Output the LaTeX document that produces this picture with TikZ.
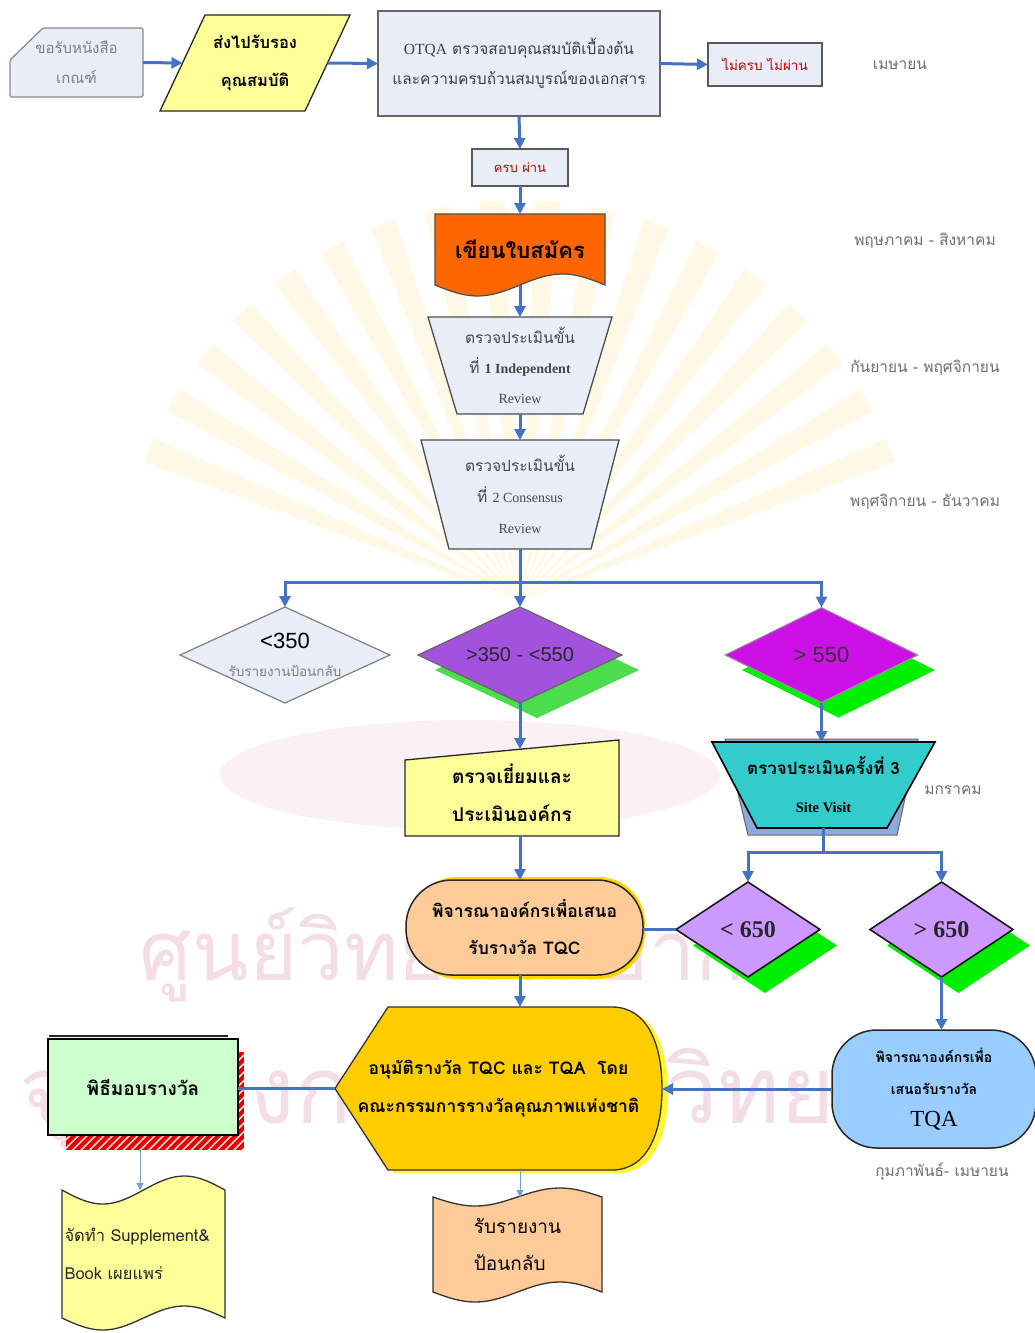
\documentclass[tikz,border=0pt]{standalone}
\usepackage{fontspec}
\setmainfont{Liberation Serif}
\newfontfamily\thai[Script=Thai]{Loma}
\newfontfamily\sans{Liberation Sans}
\usetikzlibrary{arrows.meta,calc,patterns.meta}

\definecolor{flow}{HTML}{4472C4}
\definecolor{paleblue}{HTML}{E9EDF7}
\definecolor{paleyellow}{HTML}{FFFF99}
\definecolor{orangefill}{HTML}{FF6600}
\definecolor{violetA}{HTML}{A352DE}
\definecolor{violetB}{HTML}{CC11E6}
\definecolor{lavender}{HTML}{CC99FF}
\definecolor{limeA}{HTML}{4CDD4C}
\definecolor{limeB}{HTML}{00EE00}
\definecolor{tealfill}{HTML}{33CCCC}
\definecolor{slatefill}{HTML}{8EA9DB}
\definecolor{peach}{HTML}{FFCC99}
\definecolor{goldfill}{HTML}{FFCC00}
\definecolor{mint}{HTML}{CCFFCC}
\definecolor{skyfill}{HTML}{99CCFF}
\definecolor{wmpink}{HTML}{F4DDE5}
\definecolor{wmgold}{HTML}{FFF8E4}
\definecolor{monthgray}{HTML}{6E6E6E}

\pgfdeclarelayer{watermark}
\pgfdeclarelayer{shapes}
\pgfsetlayers{watermark,shapes,main}

\newcommand\setfs[2]{\fontsize{#1}{#2}\selectfont}

\begin{document}
\begin{tikzpicture}[x=1pt,y=-1pt,
  holder/.style n args={2}{draw=none,inner sep=0pt,outer sep=0pt,
    minimum width=#1pt,minimum height=#2pt,align=center},
  outline/.style={draw=black!85,line width=1.3pt},
  flowline/.style={draw=flow,line width=3pt},
  flowarrow/.style={flowline,-{Triangle[length=11pt,width=11pt]}},
  thinarrow/.style={draw=flow!70,line width=1pt,-{Triangle[length=7pt,width=7pt]}},
  month/.style={font=\thai\setfs{15.5}{17},text=monthgray,inner sep=0pt},
  dpath/.style={insert path={(#1.west) -- (#1.north) -- (#1.east) -- (#1.south) -- cycle}},
  dshadow/.style n args={3}{insert path={($(#1.west)+(#2,#3)$) -- ($(#1.north)+(#2,#3)$)
    -- ($(#1.east)+(#2,#3)$) -- ($(#1.south)+(#2,#3)$) -- cycle}},
]
\useasboundingbox (0,0) rectangle (1035,1333);

% ---------------- nodes ----------------
\node[holder={133}{69}, font=\thai\setfs{15}{30}, text=black!50] (card) at (76.5,62.5) {ขอรับหนังสือ\\เกณฑ์};
\node[holder={190}{96}, font=\thai\bfseries\setfs{16.5}{38}] (par) at (255,63) {ส่งไปรับรอง\\คุณสมบัติ};
\node[holder={282}{105}, fill=paleblue, draw=black!60, line width=1.5pt,
      font=\thai\setfs{15.5}{30}, text=black!75] (otqa) at (519,63.5)
      {\raisebox{6pt}{\parbox{276pt}{\centering{\rmfamily OTQA} ตรวจสอบคุณสมบัติเบื้องต้น\\และความครบถ้วนสมบูรณ์ของเอกสาร}}};
\node[holder={114}{43}, fill=paleblue, draw=black!65, line width=1.5pt,
      font=\thai\setfs{13.5}{14}, text=red!80!black] (fail) at (765,64.5) {ไม่ครบ ไม่ผ่าน};
\node[holder={96}{37}, fill=paleblue, draw=black!65, line width=1.5pt,
      font=\thai\setfs{13}{14}, text=red!80!black] (pass) at (520,167.5) {ครบ ผ่าน};
\node[holder={170}{71}, font=\thai\bfseries\setfs{22}{24}] (apply) at (520,249.5) {เขียนใบสมัคร};
\node[holder={184}{97}, font=\thai\setfs{15.5}{30}, text=black!72] (rev1) at (520,365.5)
      {ตรวจประเมินขั้น\\ที่ {\rmfamily\bfseries\setfs{14}{30}1 Independent}\\{\rmfamily\setfs{14}{30}Review}};
\node[holder={198}{109}, font=\thai\setfs{15.5}{31}, text=black!72] (rev2) at (520,494.5)
      {ตรวจประเมินขั้น\\ที่ {\rmfamily\setfs{14}{31}2 Consensus}\\{\rmfamily\setfs{14}{31}Review}};

\node[holder={210}{96}, font=\thai\setfs{13.5}{28}] (d1) at (285,655)
      {{\sans\setfs{22}{28}<350}\\{\color{black!50}รับรายงานป้อนกลับ}};
\node[holder={204}{96}, font=\sans\setfs{20}{24}, text=black!85] (d2) at (520,655) {>350 - <550};
\node[holder={193}{95}, font=\sans\setfs{22}{24}, text=black!80] (d3) at (821.5,655) {> 550};

\node[holder={214}{86}, font=\thai\bfseries\setfs{19}{38}] (inspect) at (512,793) {ตรวจเยี่ยมและ\\ประเมินองค์กร};
\node[holder={223}{86}, font=\thai\bfseries\setfs{17}{38}] (site) at (823.5,785)
      {ตรวจประเมินครั้งที่ 3\\{\rmfamily\bfseries\setfs{14.5}{38}Site Visit}};

\node[holder={144}{95}, font=\rmfamily\bfseries\setfs{24}{26}, text=black!85] (d4) at (748,929.5) {< 650};
\node[holder={143}{95}, font=\rmfamily\bfseries\setfs{24}{26}, text=black!85] (d5) at (941.5,929.5) {> 650};

\node[holder={237}{95}, font=\thai\bfseries\setfs{17.5}{37}] (tqc) at (524.5,927.5)
      {พิจารณาองค์กรเพื่อเสนอ\\รับรางวัล TQC};
\node[holder={327}{163}, font=\thai\bfseries\setfs{17.5}{38}] (approve) at (498.5,1088.5)
      {อนุมัติรางวัล TQC และ TQA \ โดย\\คณะกรรมการรางวัลคุณภาพแห่งชาติ};
\node[holder={190}{96}, fill=mint, draw=black, line width=1.6pt,
      font=\thai\bfseries\setfs{19}{22}] (award) at (143,1087) {พิธีมอบรางวัล};
\node[holder={204}{118}, font=\thai\bfseries\setfs{14}{32}] (tqa) at (934,1089)
      {พิจารณาองค์กรเพื่อ\\เสนอรับรางวัล\\{\rmfamily\mdseries\setfs{23}{30}TQA}};
\node[holder={169}{95}, font=\thai\setfs{19}{37}, align=left] (fb) at (517.5,1244.5) {รับรายงาน\\ป้อนกลับ};
\node[holder={163}{128}, font=\thai\setfs{16.5}{38}, align=left, text width=158pt, text=black!85] (supp) at (143.5,1254)
      {จัดทำ Supplement\&\\Book เผยแพร่};

% month annotations
\node[month] (m1) at (900,65) {เมษายน};
\node[month] (m2) at (925,241) {พฤษภาคม - สิงหาคม};
\node[month] (m3) at (925,368) {กันยายน - พฤศจิกายน};
\node[month] (m4) at (925,502) {พฤศจิกายน - ธันวาคม};
\node[month] (m5) at (953,790) {มกราคม};
\node[month] (m6) at (942,1172) {กุมภาพันธ์- เมษายน};

\coordinate (spine) at (520,0);
\coordinate (fork1) at (520,582);
\coordinate (fork2) at (823.5,852);

% ---------------- shapes ----------------
\begin{pgfonlayer}{shapes}
  % card with clipped corner
  \filldraw[fill=paleblue, draw=black!45, line width=1.3pt, rounded corners=1.5pt]
    (card.south west) -- ($(card.north west)+(0,32)$) -- ($(card.north west)+(33,0)$)
    -- (card.north east) -- (card.south east) -- cycle;
  % parallelogram
  \filldraw[fill=paleyellow, outline] (par.south west) -- ($(par.north west)+(45,0)$)
    -- (par.north east) -- ($(par.south east)+(-45,0)$) -- cycle;
  % document
  \filldraw[fill=orangefill, draw=black!70, line width=1.2pt]
    (apply.south west) -- (apply.north west) -- (apply.north east) -- (apply.south east)
    -- plot[domain=1:0,samples=40] ({435+170*\x},{285+11*sin(360*\x)}) -- cycle;
  % review stages
  \filldraw[fill=paleblue, draw=black!70, line width=1.3pt] (rev1.north west) -- (rev1.north east)
    -- ($(rev1.south east)+(-29,0)$) -- ($(rev1.south west)+(29,0)$) -- cycle;
  \filldraw[fill=paleblue, draw=black!70, line width=1.3pt] (rev2.north west) -- (rev2.north east)
    -- ($(rev2.south east)+(-28,0)$) -- ($(rev2.south west)+(28,0)$) -- cycle;
  % score decisions
  \filldraw[fill=paleblue, draw=black!50, line width=1.2pt, dpath=d1];
  \fill[limeA, dshadow={d2}{17}{15}];
  \filldraw[fill=violetA, draw=black!60, line width=1.2pt, dpath=d2];
  \fill[limeB, dshadow={d3}{17}{15}];
  \filldraw[fill=violetB, draw=black!40, line width=1pt, dpath=d3];
  \fill[limeB, dshadow={d4}{17}{16}];
  \filldraw[fill=lavender, draw=black!90, line width=1.6pt, dpath=d4];
  \fill[limeB, dshadow={d5}{17}{16}];
  \filldraw[fill=lavender, draw=black!90, line width=1.6pt, dpath=d5];
  % manual input
  \filldraw[fill=paleyellow, outline] ($(inspect.north west)+(0,10)$) -- ($(inspect.north east)+(0,-10)$)
    -- (inspect.south east) -- (inspect.south west) -- cycle;
  % site visit with its shadow
  \filldraw[fill=slatefill, draw=black!60, line width=1pt] ($(site.north west)+(13,-3)$)
    -- ($(site.north east)+(-17,-3)$) -- ($(site.south east)+(-38,7)$) -- ($(site.south west)+(36,7)$) -- cycle;
  \filldraw[fill=tealfill, draw=black, line width=1.6pt] (site.north west) -- (site.north east)
    -- ($(site.south east)+(-48,0)$) -- ($(site.south west)+(45,0)$) -- cycle;
  % terminators
  \fill[goldfill!85!yellow, rounded corners=46pt] ($(tqc.north west)+(5,-3)$) rectangle ($(tqc.south east)+(2,4)$);
  \filldraw[fill=peach, draw=black!85, line width=1.5pt, rounded corners=46pt] (tqc.north west) rectangle (tqc.south east);
  \filldraw[fill=skyfill, draw=black!85, line width=1.5pt, rounded corners=45pt] (tqa.north west) rectangle (tqa.south east);
  % display
  \fill[yellow!80] ($(approve.west)+(6,3)$) -- ($(approve.north west)+(59,3)$) -- ($(approve.north east)+(-44,3)$)
    .. controls ($(approve.north east)+(-9,3)$) and ($(approve.east)+(6,-42)$) .. ($(approve.east)+(6,3)$)
    .. controls ($(approve.east)+(6,48)$) and ($(approve.south east)+(-9,3)$) .. ($(approve.south east)+(-44,3)$)
    -- ($(approve.south west)+(59,3)$) -- cycle;
  \filldraw[fill=goldfill, draw=black!80, line width=1.3pt] (approve.west) -- ($(approve.north west)+(53,0)$)
    -- ($(approve.north east)+(-50,0)$)
    .. controls ($(approve.north east)+(-15,0)$) and ($(approve.east)+(0,-45)$) .. (approve.east)
    .. controls ($(approve.east)+(0,45)$) and ($(approve.south east)+(-15,0)$) .. ($(approve.south east)+(-50,0)$)
    -- ($(approve.south west)+(53,0)$) -- cycle;
  % ceremony box shadow
  \fill[red!90!black] ($(award.north west)+(18,13)$) rectangle ($(award.south east)+(6,15)$);
  \fill[pattern={Lines[angle=45,distance=6pt,line width=1.6pt]}, pattern color=white!85!red]
    ($(award.north west)+(18,13)$) rectangle ($(award.south east)+(6,15)$);
  \draw[black!85, line width=1.2pt] ($(award.north west)+(1,-3)$) -- ($(award.north east)+(-10,-3)$);
  % punched tapes
  \filldraw[fill=peach, draw=black!80, line width=1.3pt]
    plot[domain=0:1,samples=40] ({433+169*\x},{1197+9*sin(360*\x)})
    -- plot[domain=1:0,samples=40] ({433+169*\x},{1292+10*sin(360*\x)}) -- cycle;
  \filldraw[fill=paleyellow, draw=black!80, line width=1.3pt]
    plot[domain=0:1,samples=40] ({62+163*\x},{1190+14*sin(360*\x)})
    -- plot[domain=1:0,samples=40] ({62+163*\x},{1318+12*sin(360*\x)}) -- cycle;
\end{pgfonlayer}

% ---------------- faint background emblem and lettering ----------------
\begin{pgfonlayer}{watermark}
  \fill[white] (0,0) rectangle (1035,1333);
  \foreach \a in {-158,-150,...,-22}
    \fill[wmgold] (520,600) -- ($(520,600)+(\a-1.8:400)$) -- ($(520,600)+(\a+1.8:400)$) -- cycle;
  \fill[wmpink!40] (470,775) ellipse [x radius=250pt, y radius=55pt];
  \node[inner sep=0pt, text=wmpink, font=\thai\setfs{100}{100}] (wmA) at (465,955)
    {\resizebox{650pt}{!}{ศูนย์วิทยทรัพยากร}};
  \node[inner sep=0pt, text=wmpink, font=\thai\setfs{100}{100}] (wmB) at (510,1095)
    {\resizebox{980pt}{!}{จุฬาลงกรณ์มหาวิทยาลัย}};
\end{pgfonlayer}

% ---------------- connectors ----------------
\draw[flowarrow] (card.east) -- ($(par.west)+(22.5,0)$);
\draw[flowarrow] ($(par.east)+(-22.5,0)$) -- (otqa.west);
\draw[flowarrow] (otqa.east) -- (fail.west);
\draw[flowarrow] (otqa.south) -- (pass.north);
\draw[flowarrow] (pass.south) -- (apply.north);
\draw[flowarrow] (apply.south) -- (rev1.north);
\draw[flowarrow] (rev1.south) -- (rev2.north);
\draw[flowline] (rev2.south) -- (fork1);
\draw[flowarrow] (fork1) -| (d1.north);
\draw[flowarrow] (fork1) -- (d2.north);
\draw[flowarrow] (fork1) -| (d3.north);
\draw[flowarrow] (d2.south) -- ($(d2.south |- inspect.north)+(0,-1)$);
\draw[flowarrow] (inspect.south -| spine) -- (tqc.north -| spine);
\draw[flowarrow] (tqc.south -| spine) -- (approve.north -| spine);
\draw[flowarrow] (d3.south) -- (d3.south |- site.north);
\draw[flowline] (site.south) -- (fork2);
\draw[flowarrow] (fork2) -| (d4.north);
\draw[flowarrow] (fork2) -| (d5.north);
\draw[flowline] (d4.west) -- (d4.west -| tqc.east);
\draw[flowarrow] (d5.south) -- (d5.south |- tqa.north);
\draw[flowarrow] (tqa.west) -- (tqa.west -| approve.east);
\draw[flowline] (approve.west) -- (approve.west -| award.east);
\draw[thinarrow] ($(award.south)+(-3,15)$) -- ($(award.south |- supp.north)+(-3,0)$);
\draw[thinarrow] (approve.south -| spine) -- (fb.north -| spine);
\end{tikzpicture}
\end{document}
